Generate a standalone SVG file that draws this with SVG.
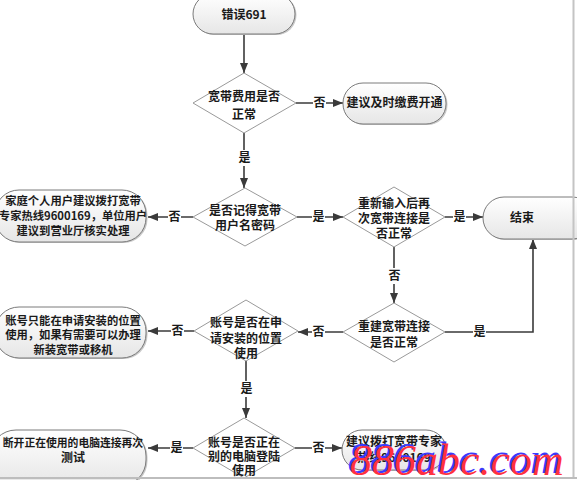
<svg xmlns="http://www.w3.org/2000/svg" width="577" height="480" viewBox="0 0 577 480">
<defs>
<linearGradient id="pg" x1="0" y1="0" x2="0" y2="1">
<stop offset="0" stop-color="#ffffff"/>
<stop offset="1" stop-color="#e6e6e6"/>
</linearGradient>
<marker id="ah" markerUnits="userSpaceOnUse" markerWidth="10" markerHeight="10" viewBox="0 0 10 10" refX="10" refY="5" orient="auto">
<path d="M0,1 L10,5 L0,9 Z" fill="#3a3a3a"/>
</marker>
<style>
.pill{fill:url(#pg);stroke:#7a7a7a;stroke-width:1}
.sh{fill:#c8c8c8}
.dia{fill:#ffffff;stroke:#9a9a9a;stroke-width:1}
.t{font-family:"Noto Sans CJK SC","Liberation Sans",sans-serif;font-size:12px;font-weight:bold;fill:#1a1a1a;text-anchor:middle}
.s{font-size:11.3px}
.c{fill:none;stroke:#3a3a3a;stroke-width:1.6}
.lb{font-family:"Noto Sans CJK SC","Liberation Sans",sans-serif;font-size:12px;font-weight:bold;fill:#1a1a1a;text-anchor:middle}
.wm{font-family:"Liberation Serif",serif;font-style:italic;font-size:44px}
</style>
</defs>
<rect width="577" height="480" fill="#ffffff"/>

<g id="connectors">
<path class="c" d="M244,34 V73" marker-end="url(#ah)"/>
<path class="c" d="M296,103 H343" marker-end="url(#ah)"/>
<path class="c" d="M244,133 V188" marker-end="url(#ah)"/>
<path class="c" d="M193,217 H148" marker-end="url(#ah)"/>
<path class="c" d="M297,217 H343" marker-end="url(#ah)"/>
<path class="c" d="M445,217 H483" marker-end="url(#ah)"/>
<path class="c" d="M394,247 V303" marker-end="url(#ah)"/>
<path class="c" d="M445,332 H533 V239" marker-end="url(#ah)"/>
<path class="c" d="M343,332 H298" marker-end="url(#ah)"/>
<path class="c" d="M194,331 H148" marker-end="url(#ah)"/>
<path class="c" d="M246,361 V418" marker-end="url(#ah)"/>
<path class="c" d="M193,448 H148" marker-end="url(#ah)"/>
<path class="c" d="M295,448 H342" marker-end="url(#ah)"/>
<g fill="#ffffff">
<rect x="313" y="95" width="13" height="15"/>
<rect x="238" y="150" width="13" height="16"/>
<rect x="168" y="209" width="13" height="16"/>
<rect x="312" y="209" width="13" height="16"/>
<rect x="453" y="209" width="13" height="16"/>
<rect x="388" y="268" width="13" height="16"/>
<rect x="473" y="324" width="13" height="16"/>
<rect x="312" y="324" width="13" height="16"/>
<rect x="171" y="323" width="13" height="16"/>
<rect x="240" y="381" width="13" height="16"/>
<rect x="170" y="440" width="13" height="16"/>
<rect x="312" y="440" width="13" height="16"/>
</g>
<text class="lb" x="319.5" y="107">否</text>
<text class="lb" x="244.5" y="162">是</text>
<text class="lb" x="174.5" y="221">否</text>
<text class="lb" x="318.5" y="221">是</text>
<text class="lb" x="459.5" y="221">是</text>
<text class="lb" x="394.5" y="280">否</text>
<text class="lb" x="479.5" y="336">是</text>
<text class="lb" x="318.5" y="336">否</text>
<text class="lb" x="177.5" y="335">否</text>
<text class="lb" x="246.5" y="393">是</text>
<text class="lb" x="176.5" y="452">是</text>
<text class="lb" x="318.5" y="452">否</text>
</g>

<g id="start">
<rect class="sh" x="194.5" y="-5" width="102" height="40" rx="20"/>
<rect class="pill" x="193" y="-6" width="102" height="40" rx="20"/>
<text class="t" x="244" y="19">错误691</text>
</g>

<g id="d1">
<polygon class="dia" points="244,73 296,103 244,133 193,103"/>
<text class="t" x="244" y="101">宽带费用是否</text>
<text class="t" x="244" y="119">正常</text>
</g>

<g id="pay">
<rect class="sh" x="344.5" y="84" width="103" height="41" rx="20"/>
<rect class="pill" x="343" y="83" width="103" height="41" rx="20"/>
<text class="t" x="394.5" y="107">建议及时缴费开通</text>
</g>

<g id="d2">
<polygon class="dia" points="245,188 297,217 245,246 193,217"/>
<text class="t" x="245" y="215">是否记得宽带</text>
<text class="t" x="245" y="230">用户名密码</text>
</g>

<g id="hotline1">
<rect class="sh" x="-3.5" y="191" width="151" height="52" rx="24"/>
<rect class="pill" x="-5" y="190" width="151" height="52" rx="24"/>
<text class="t s" x="73" y="205">家庭个人用户建议拨打宽带</text>
<text class="t s" x="73" y="220">专家热线9600169，单位用户</text>
<text class="t s" x="73" y="235">建议到营业厅核实处理</text>
</g>

<g id="d3">
<polygon class="dia" points="394,187 445,217 394,247 343,217"/>
<text class="t" x="394" y="208">重新输入后再</text>
<text class="t" x="394" y="223">次宽带连接是</text>
<text class="t" x="394" y="238">否正常</text>
</g>

<g id="end">
<rect class="sh" x="484.5" y="198" width="110" height="42" rx="21"/>
<rect class="pill" x="483" y="197" width="110" height="42" rx="21"/>
<text class="t" x="522" y="222">结束</text>
</g>

<g id="d4">
<polygon class="dia" points="394,303 445,332 394,362 343,332"/>
<text class="t" x="394" y="331">重建宽带连接</text>
<text class="t" x="394" y="347">是否正常</text>
</g>

<g id="d5">
<polygon class="dia" points="246,300 298,331 246,361 194,331"/>
<text class="t" x="246" y="327">账号是否在申</text>
<text class="t" x="246" y="343">请安装的位置</text>
<text class="t" x="246" y="358">使用</text>
</g>

<g id="location">
<rect class="sh" x="-3.5" y="308" width="151" height="51" rx="24"/>
<rect class="pill" x="-5" y="307" width="151" height="51" rx="24"/>
<text class="t s" x="73" y="325">账号只能在申请安装的位置</text>
<text class="t s" x="73" y="339">使用，如果有需要可以办理</text>
<text class="t s" x="73" y="354">新装宽带或移机</text>
</g>

<g id="d6">
<polygon class="dia" points="244,418 295,448 244,478 193,448"/>
<text class="t" x="244" y="447">账号是否正在</text>
<text class="t" x="244" y="461">别的电脑登陆</text>
<text class="t" x="244" y="475">使用</text>
</g>

<g id="disconnect">
<rect class="sh" x="-8.5" y="431" width="156" height="56" rx="26"/>
<rect class="pill" x="-10" y="430" width="156" height="56" rx="26"/>
<text class="t" x="73" y="447" style="font-size:10.8px">断开正在使用的电脑连接再次</text>
<text class="t" x="73" y="462">测试</text>
</g>

<g id="hotline2">
<rect class="sh" x="343.5" y="431" width="104" height="40" rx="20"/>
<rect class="pill" x="342" y="430" width="104" height="40" rx="20"/>
<text class="t" x="394" y="446">建议拨打宽带专家</text>
<text class="t" x="394" y="462">热线9600169</text>
</g>

<g id="frame">
<line x1="573.5" y1="0" x2="573.5" y2="478" stroke="#c4c4c4" stroke-width="2"/>
<line x1="0" y1="478" x2="577" y2="478" stroke="#bdbdbd" stroke-width="2"/>
</g>

<g id="watermark">
<text class="wm" x="348" y="473" fill="#3a3aff">886abc.com</text>
<text class="wm" x="350" y="475" fill="#ff3040">886abc.com</text>
</g>
</svg>
